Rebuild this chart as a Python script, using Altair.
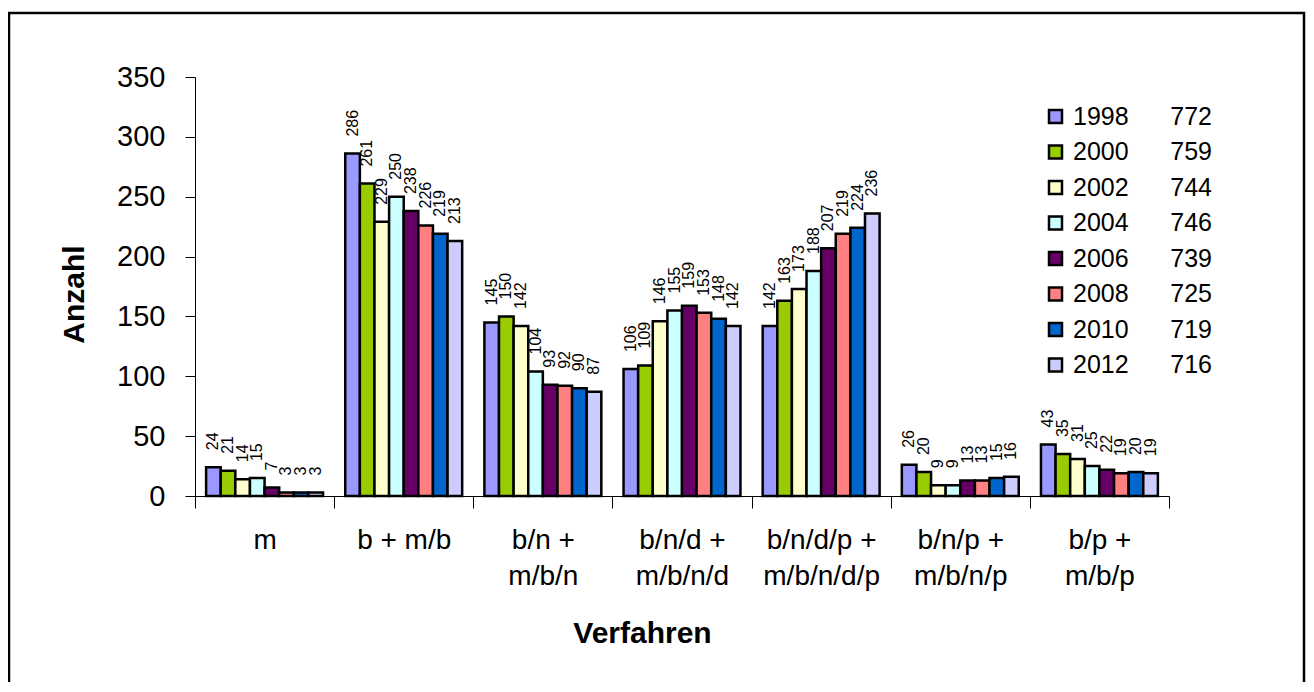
import altair as alt
import pandas as pd

# ---- data ----
years = ["1998", "2000", "2002", "2004", "2006", "2008", "2010", "2012"]
totals = [772, 759, 744, 746, 739, 725, 719, 716]
categories = [
    "m",
    "b + m/b",
    "b/n +\nm/b/n",
    "b/n/d +\nm/b/n/d",
    "b/n/d/p +\nm/b/n/d/p",
    "b/n/p +\nm/b/n/p",
    "b/p +\nm/b/p",
]
v1998 = [24, 286, 145, 106, 142, 26, 43]
v2000 = [21, 261, 150, 109, 163, 20, 35]
v2002 = [14, 229, 142, 146, 173, 9, 31]
v2004 = [15, 250, 104, 155, 188, 9, 25]
v2006 = [7, 238, 93, 159, 207, 13, 22]
v2008 = [3, 226, 92, 153, 219, 13, 19]
v2010 = [3, 219, 90, 148, 224, 15, 20]
v2012 = [3, 213, 87, 142, 236, 16, 19]
series = [v1998, v2000, v2002, v2004, v2006, v2008, v2010, v2012]
colors = ["#9999FF", "#99CC00", "#FFFFCC", "#CCFFFF", "#660066", "#FF8080", "#0066CC", "#CCCCFF"]

NBSP = "\u00a0"
legend_labels = [f"{y}{NBSP * 6}{t}" for y, t in zip(years, totals)]

rows = []
for lab, vals in zip(legend_labels, series):
    for cat, v in zip(categories, vals):
        rows.append({"Verfahren": cat, "Jahr": lab, "Anzahl": v})
df = pd.DataFrame(rows)

FONT = "Liberation Sans"
W, H = 974, 419

x_enc = alt.X(
    "Verfahren:N",
    sort=categories,
    scale=alt.Scale(paddingInner=0, paddingOuter=0),
    axis=alt.Axis(
        title="Verfahren",
        titleFont=FONT,
        titleFontSize=30,
        titleFontWeight="bold",
        titleColor="black",
        titleX=447,
        titleY=146,
        titleAlign="center",
        titleBaseline="alphabetic",
        labelFont=FONT,
        labelFontSize=28,
        labelColor="black",
        labelAngle=0,
        labelPadding=18,
        labelLineHeight=36,
        labelBaseline="top",
        labelExpr="split(datum.label, '\\n')",
        tickBand="extent",
        tickSize=12,
        tickColor="black",
        domainColor="black",
        domainWidth=1,
        labelLimit=300,
    ),
)
xoff_scale = alt.Scale(paddingInner=0, paddingOuter=0.76)
xoff = alt.XOffset("Jahr:N", sort=legend_labels, scale=xoff_scale)
y_enc = alt.Y(
    "Anzahl:Q",
    scale=alt.Scale(domain=[0, 350], nice=False),
    axis=alt.Axis(
        title="Anzahl",
        titleFont=FONT,
        titleFontSize=30,
        titleFontWeight="bold",
        titleColor="black",
        titleX=-112,
        titleY=217,
        titleAlign="center",
        titleBaseline="alphabetic",
        values=[0, 50, 100, 150, 200, 250, 300, 350],
        labelFont=FONT,
        labelFontSize=29,
        labelColor="black",
        labelPadding=20,
        tickSize=10,
        tickColor="black",
        domainColor="black",
        domainWidth=1,
        grid=False,
    ),
)

bars = alt.Chart(df).mark_bar(stroke="black", strokeWidth=2.5).encode(
    x=x_enc,
    xOffset=xoff,
    y=y_enc,
    color=alt.Color(
        "Jahr:N",
        sort=legend_labels,
        scale=alt.Scale(domain=legend_labels, range=colors),
        legend=alt.Legend(
            title=None,
            orient="none",
            legendX=848,
            legendY=27,
            symbolType="square",
            symbolSize=169,
            symbolStrokeColor="black",
            symbolStrokeWidth=2.5,
            labelFont=FONT,
            labelFontSize=25,
            labelColor="black",
            labelOffset=5,
            rowPadding=9.5,
            padding=0,
            labelLimit=400,
        ),
    ),
)

labels = alt.Chart(df).mark_text(
    angle=270, align="left", baseline="middle", dx=17, fontSize=16, font=FONT, color="black"
).encode(
    x=alt.X("Verfahren:N", sort=categories),
    xOffset=alt.XOffset("Jahr:N", sort=legend_labels),
    y=alt.Y("Anzahl:Q"),
    text=alt.Text("Anzahl:Q"),
)

frame = alt.Chart(pd.DataFrame({"f": [0]})).mark_rect(
    fillOpacity=0, stroke="black", strokeWidth=2.5
).encode(
    x=alt.value(-186), x2=alt.value(1109), y=alt.value(-64), y2=alt.value(640)
)

chart = alt.layer(frame, bars, labels).properties(
    width=W,
    height=H,
    padding={"left": 187, "top": 69, "right": 137, "bottom": 186},
    autosize=alt.AutoSizeParams(type="none"),
    background="white",
).configure_view(strokeWidth=0)

chart.save("out.html", embed_options={"renderer": "svg", "actions": False})
